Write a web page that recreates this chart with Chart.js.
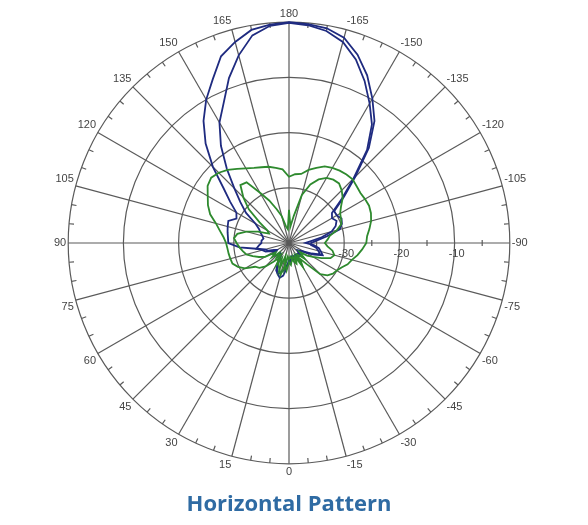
<!DOCTYPE html>
<html>
<head>
<meta charset="utf-8">
<script src="https://cdn.jsdelivr.net/npm/chart.js@4"></script>
<style>
  body { margin: 0; background: #fff; }
  #wrap { width: 588px; height: 525px; position: relative; }
</style>
</head>
<body>
<div id="wrap"><canvas id="polarChart"></canvas></div>
<script>
// azimuth labels, clockwise from the top of the plot, 5 degree steps
const azimuth = [180, -175, -170, -165, -160, -155, -150, -145, -140, -135, -130, -125,
  -120, -115, -110, -105, -100, -95, -90, -85, -80, -75, -70, -65,
  -60, -55, -50, -45, -40, -35, -30, -25, -20, -15, -10, -5,
  0, 5, 10, 15, 20, 25, 30, 35, 40, 45, 50, 55,
  60, 65, 70, 75, 80, 85, 90, 95, 100, 105, 110, 115,
  120, 125, 130, 135, 140, 145, 150, 155, 160, 165, 170, 175];

// relative level in dB, same order as azimuth
const blueOuter = [0, -0.2, -0.5, -1.5, -3.7, -6.5, -9.8, -13, -17.5, -23, -27, -30,
  -30, -29.5, -29.8, -30.5, -33, -35, -36, -36, -35, -34.5, -34, -35.5,
  -37, -37.5, -38, -37.5, -37, -37, -37.5, -37.5, -37, -37, -37.5, -37,
  -36.5, -36, -35, -34.5, -34, -34.5, -36, -37, -37.5, -37, -36.5, -37,
  -37.5, -37, -36, -35.5, -34, -31, -29, -28.9, -28.7, -28.5, -28.3, -29.5,
  -29, -27, -24.5, -20.5, -16.5, -13, -10, -7.3, -4, -2.3, -0.8, -0.3];

const blueInner = [-0.1, -0.4, -1, -2.3, -4.6, -7.6, -10.8, -13.8, -18, -23.5, -27.5, -30.5,
  -31, -30.5, -31, -32, -34, -36, -37, -35.5, -34.5, -34, -33.5, -35,
  -36.5, -37.5, -37.5, -37, -37.5, -37.5, -37.5, -37, -37.5, -37.5, -37, -36.5,
  -37, -35.5, -34, -33.5, -34, -35, -36.5, -37.5, -37.5, -37, -36.5, -36.5,
  -37, -36.5, -35.5, -35, -34, -34.5, -35, -35, -35.3, -35, -34.5, -34,
  -33, -30.5, -28.5, -26, -22.5, -18.5, -14.8, -12, -8.2, -4.8, -1.8, -0.5];

const greenOuter = [-28, -27.5, -27.3, -26.3, -25.5, -24.7, -24.3, -24, -23.8, -23.7, -24, -24.2,
  -24.1, -24, -24.2, -24.6, -25.2, -25.8, -26, -26.7, -27.4, -28.2, -28.7, -29.5,
  -30, -30.3, -30.9, -32, -35, -36.5, -35, -37, -36, -36.5, -37, -36,
  -36.5, -35, -36, -34, -35, -35.5, -36, -36.5, -35.5, -34, -33, -32.5,
  -30.8, -29.8, -29.1, -29, -28.9, -28.8, -28.6, -28.1, -27.3, -26.3, -24.8, -23.8,
  -23, -22, -21.6, -22, -22.7, -23.6, -24.4, -25, -25.4, -25.7, -26.2, -26.6];

const greenInner = [-34, -37, -35, -31, -28.7, -27.3, -26.4, -26, -25.9, -26.5, -27.3, -28.5,
  -29.3, -29.6, -29.9, -31, -32.5, -33, -33.5, -33, -32, -31.5, -32, -33.5,
  -35, -36, -37.5, -36, -37, -37.5, -36, -37.5, -36.5, -37.5, -37, -37.5,
  -37, -37.5, -35.5, -37.5, -35, -37, -35.5, -37.5, -36.5, -37.5, -36, -37,
  -35, -34, -33, -32, -31.5, -31, -30.5, -30, -30.5, -32, -34, -36,
  -35.5, -33.5, -30.5, -28.3, -26.3, -26.6, -29.5, -31.5, -33.5, -35, -37, -37.5];

const ringLabels = [-30, -20, -10];
const minorRingTicks = [-35, -25, -15, -5];

const gridColor = "#5a5a5a";
const blue = "#1f2b80";
const green = "#2e8a2e";

// ring values along the right axis, minor ticks on the outer circle
const polarExtras = {
    id: "polarExtras",
    beforeDatasetsDraw(chart) {
        const r = chart.scales.r;
        const ctx = chart.ctx;
        const right = azimuth.indexOf(-90);
        ctx.save();
        ctx.strokeStyle = gridColor;
        ctx.lineWidth = 1.2;
        ctx.beginPath();
        for (let i = 0; i < azimuth.length; i++) {
            if (azimuth[i] % 15 === 0) continue;
            const a = r.getPointPosition(i, r.drawingArea);
            const b = r.getPointPosition(i, r.drawingArea - 5);
            ctx.moveTo(a.x, a.y);
            ctx.lineTo(b.x, b.y);
        }
        minorRingTicks.forEach(v => {
            const p = r.getPointPositionForValue(right, v);
            ctx.moveTo(p.x, p.y - 3);
            ctx.lineTo(p.x, p.y + 3);
        });
        ctx.stroke();

        ctx.fillStyle = "#444";
        ctx.font = "11px 'Liberation Sans', Arial, sans-serif";
        ctx.textAlign = "center";
        ctx.textBaseline = "top";
        ringLabels.forEach(v => {
            const p = r.getPointPositionForValue(right, v);
            ctx.fillText(String(v), p.x + 2, p.y + 5);
        });
        ctx.restore();
    }
};

function series(label, data, color) {
    return {
        label: label,
        data: data,
        borderColor: color,
        borderWidth: 1.8,
        backgroundColor: "transparent",
        fill: false,
        pointRadius: 0,
        pointHoverRadius: 0,
        tension: 0
    };
}

new Chart(document.getElementById("polarChart"), {
    type: "radar",
    data: {
        labels: azimuth,
        datasets: [
            series("Green outer", greenOuter, green),
            series("Green inner", greenInner, green),
            series("Blue inner", blueInner, blue),
            series("Blue outer", blueOuter, blue)
        ]
    },
    options: {
        responsive: true,
        maintainAspectRatio: false,
        animation: false,
        layout: { padding: { top: 7, left: 0, right: 10, bottom: 0 } },
        plugins: {
            legend: { display: false },
            tooltip: { enabled: false },
            title: {
                display: true,
                position: "bottom",
                text: "Horizontal Pattern",
                color: "#2f6ba3",
                font: { family: "'Open Sans'", size: 22, weight: "bold" },
                padding: { top: 11, bottom: 7 }
            }
        },
        scales: {
            r: {
                min: -40,
                max: 0,
                ticks: { stepSize: 10, display: false },
                grid: { circular: true, color: gridColor, lineWidth: 1.2 },
                angleLines: {
                    color: gridColor,
                    lineWidth: ctx => (azimuth[ctx.index] % 15 === 0 ? 1.2 : 0)
                },
                pointLabels: {
                    padding: 2,
                    color: "#444",
                    font: { family: "'Liberation Sans', Arial, sans-serif", size: 11 },
                    callback: (label) => (label % 15 === 0 ? String(label) : "")
                }
            }
        }
    },
    plugins: [polarExtras]
});
</script>
</body>
</html>
